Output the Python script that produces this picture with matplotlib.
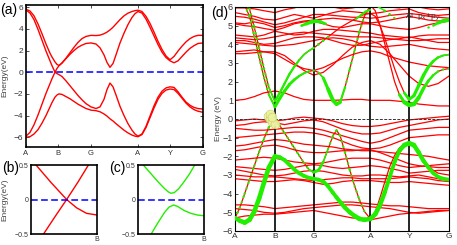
import numpy as np
import matplotlib.pyplot as plt
from matplotlib.collections import LineCollection

plt.rcParams['font.family'] = ['Liberation Sans', 'DejaVu Sans']

RED = '#ff0000'
GREEN = '#22ee00'
BLUE = '#0000ff'

sym_labels = ['A', 'B', 'G', 'A', 'Y', 'G']
sym_a = [0, 32, 65, 112, 144, 177]
sym_d = [0, 33, 65, 112, 144, 177]

# ---- panel (a): 4 bands near the Fermi level
ka = [0, 4, 8, 12, 16, 20, 24, 26, 29, 31, 33, 36, 40, 44, 48, 52, 56, 60,
      65, 70, 74, 78, 81, 84, 87, 90, 94, 98, 102, 106, 109, 112, 116, 120,
      124, 128, 132, 136, 140, 144, 148, 152, 156, 160, 164, 168, 172, 177]
a_v2 = [-6.0, -5.95, -5.7, -5.3, -4.7, -4.0, -3.2, -2.8, -2.3, -2.1, -2.0, -2.05,
        -2.25, -2.45, -2.7, -2.95, -3.15, -3.35, -3.5, -3.55, -3.65, -3.85, -4.05,
        -4.3, -4.5, -4.75, -5.05, -5.35, -5.6, -5.8, -5.9, -5.95, -5.75, -5.1,
        -4.2, -3.3, -2.5, -1.95, -1.65, -1.55, -1.6, -1.95, -2.4, -2.85, -3.2,
        -3.45, -3.6, -3.7]
a_v1 = [-5.9, -5.55, -4.85, -3.95, -2.95, -1.95, -1.05, -0.6, 0.0, -0.13, -0.22,
        -0.4, -0.8, -1.25, -1.7, -2.15, -2.55, -2.9, -3.2, -3.35, -3.2, -2.5,
        -1.6, -1.0, -1.35, -2.1, -3.15, -4.0, -4.75, -5.35, -5.7, -5.9, -5.7,
        -5.0, -4.05, -3.1, -2.3, -1.75, -1.45, -1.35, -1.4, -1.8, -2.3, -2.75,
        -3.05, -3.25, -3.35, -3.4]
a_c1 = [5.75, 5.45, 4.85, 3.95, 2.95, 1.95, 1.05, 0.6, 0.0, 0.35, 0.6, 0.85, 1.25,
        1.65, 2.0, 2.3, 2.5, 2.65, 2.7, 2.6, 2.25, 1.6, 0.9, 0.45, 0.8, 1.6, 2.7,
        3.6, 4.4, 5.05, 5.4, 5.6, 5.45, 4.9, 4.15, 3.35, 2.55, 1.85, 1.35, 1.05,
        0.87, 1.05, 1.45, 1.85, 2.2, 2.45, 2.65, 2.7]
a_c2 = [5.8, 5.65, 5.2, 4.45, 3.55, 2.6, 1.75, 1.4, 0.95, 0.72, 0.62, 0.85, 1.3,
        1.8, 2.3, 2.75, 3.1, 3.3, 3.4, 3.38, 3.42, 3.55, 3.7, 3.9, 4.15, 4.45,
        4.85, 5.2, 5.45, 5.6, 5.68, 5.72, 5.6, 5.15, 4.5, 3.7, 2.85, 2.1, 1.5,
        1.15, 1.45, 1.95, 2.4, 2.8, 3.1, 3.3, 3.4, 3.4]

# ---- panels (b), (c): zoom near B, without / with SOC
kb_up = [0.19, 0.37, 0.54, 0.71, 0.87]
eb_up = [-0.5, -0.24, 0.0, 0.25, 0.5]
kb_dn = [0.076, 0.3, 0.54, 0.69, 0.84, 1.0]
eb_dn = [0.5, 0.25, 0.0, -0.12, -0.2, -0.225]

kc_up = [0.08, 0.2, 0.3, 0.4, 0.46, 0.5, 0.55, 0.62, 0.7, 0.78, 0.86]
ec_up = [0.5, 0.37, 0.26, 0.16, 0.11, 0.09, 0.1, 0.16, 0.26, 0.37, 0.5]
kc_dn = [0.2, 0.3, 0.4, 0.47, 0.54, 0.6, 0.7, 0.8, 0.9, 1.0]
ec_dn = [-0.5, -0.34, -0.19, -0.11, -0.08, -0.1, -0.16, -0.2, -0.225, -0.235]

# ---- panel (d): full band structure
kd = [0, 8, 16, 24, 33, 41, 49, 57, 65, 73, 81, 89, 97, 105, 112, 120, 128,
      136, 144, 152, 160, 168, 177]
d_bands = [
    [1.0, 1.05, 1.2, 1.4, 1.5, 1.4, 1.2, 1.05, 1.0, 1.0, 1.0, 1.02, 1.05, 1.05, 1.0, 1.0, 1.0, 0.95, 0.9, 0.8, 0.75, 0.7, 0.7],
    [3.5, 3.5, 3.55, 3.6, 3.6, 3.4, 3.0, 2.6, 2.35, 2.5, 2.9, 3.4, 3.85, 4.1, 4.2, 4.0, 3.5, 2.9, 2.3, 1.9, 1.75, 1.9, 2.3],
    [4.1, 4.05, 4.0, 3.95, 3.9, 3.95, 4.0, 4.1, 4.2, 4.3, 4.35, 4.3, 4.2, 4.0, 3.9, 3.85, 3.9, 3.95, 4.0, 3.9, 3.8, 3.75, 3.7],
    [4.2, 4.2, 4.1, 4.0, 4.05, 4.2, 4.35, 4.4, 4.4, 4.35, 4.2, 4.05, 3.95, 3.95, 4.05, 4.15, 4.25, 4.3, 4.4, 4.3, 4.2, 4.1, 4.1],
    [4.5, 4.45, 4.4, 4.5, 4.7, 4.6, 4.5, 4.55, 4.7, 4.8, 4.8, 4.75, 4.7, 4.65, 4.6, 4.5, 4.45, 4.4, 4.35, 4.45, 4.5, 4.5, 4.5],
    [5.1, 5.0, 4.95, 4.85, 4.75, 4.9, 5.1, 5.2, 5.25, 5.1, 4.95, 4.9, 5.0, 5.1, 5.1, 5.0, 4.9, 4.85, 4.8, 4.9, 5.05, 5.15, 5.25],
    [5.15, 5.1, 5.2, 5.1, 4.9, 5.0, 5.15, 5.25, 5.3, 5.35, 5.4, 5.35, 5.3, 5.2, 5.15, 5.2, 5.3, 5.4, 5.5, 5.4, 5.3, 5.25, 5.3],
    [5.7, 5.6, 5.5, 5.35, 5.3, 5.45, 5.6, 5.5, 5.4, 5.55, 5.7, 5.8, 5.75, 5.7, 5.65, 5.7, 5.8, 5.85, 5.9, 5.7, 5.6, 5.55, 5.6],
    [5.95, 5.95, 5.9, 5.8, 5.7, 5.85, 5.95, 6.1, 6.2, 6.1, 6.0, 5.9, 5.95, 6.05, 6.1, 6.05, 6.0, 5.95, 6.1, 6.0, 5.9, 5.85, 5.9],
    [3.6, 3.65, 3.7, 3.6, 3.5, 3.2, 2.9, 2.7, 2.6, 2.75, 3.0, 3.25, 3.45, 3.6, 3.65, 3.55, 3.35, 3.2, 3.05, 2.95, 2.85, 2.8, 2.75],
    [4.35, 4.3, 4.25, 4.3, 4.4, 4.5, 4.6, 4.65, 4.6, 4.55, 4.5, 4.45, 4.4, 4.4, 4.4, 4.35, 4.3, 4.25, 4.2, 4.2, 4.25, 4.3, 4.3],
    [5.5, 5.45, 5.35, 5.2, 5.05, 5.15, 5.3, 5.45, 5.6, 5.6, 5.55, 5.5, 5.45, 5.45, 5.4, 5.45, 5.55, 5.6, 5.65, 5.6, 5.5, 5.45, 5.4],
    [-0.1, -0.05, 0.0, -0.05, -0.1, -0.05, 0.05, 0.1, 0.05, 0.0, -0.1, -0.25, -0.35, -0.4, -0.4, -0.35, -0.25, -0.15, -0.05, 0.0, 0.05, 0.1, 0.15],
    [-0.35, -0.3, -0.2, -0.15, -0.2, -0.3, -0.2, -0.1, -0.05, -0.15, -0.35, -0.55, -0.7, -0.8, -0.8, -0.75, -0.6, -0.45, -0.35, -0.25, -0.15, -0.05, 0.0],
    [-0.5, -0.55, -0.6, -0.6, -0.55, -0.5, -0.45, -0.45, -0.5, -0.6, -0.75, -0.9, -1.05, -1.2, -1.3, -1.2, -1.0, -0.8, -0.6, -0.55, -0.5, -0.45, -0.45],
    [-1.0, -0.95, -0.9, -0.85, -0.8, -0.75, -0.7, -0.7, -0.75, -0.85, -1.0, -1.2, -1.4, -1.55, -1.6, -1.55, -1.4, -1.2, -1.0, -0.95, -0.9, -0.85, -0.85],
    [-1.45, -1.4, -1.3, -1.2, -1.1, -1.15, -1.25, -1.35, -1.4, -1.45, -1.5, -1.6, -1.65, -1.7, -1.7, -1.75, -1.8, -1.85, -1.9, -1.95, -2.0, -2.1, -2.2],
    [-1.7, -1.65, -1.55, -1.45, -1.4, -1.5, -1.65, -1.75, -1.8, -1.8, -1.75, -1.7, -1.7, -1.65, -1.65, -1.8, -2.0, -2.2, -2.4, -2.5, -2.55, -2.6, -2.6],
    [-2.2, -2.15, -2.1, -2.05, -2.1, -2.2, -2.3, -2.35, -2.4, -2.35, -2.25, -2.15, -2.1, -2.1, -2.1, -2.2, -2.35, -2.5, -2.6, -2.55, -2.5, -2.45, -2.4],
    [-2.55, -2.6, -2.65, -2.7, -2.75, -2.7, -2.6, -2.5, -2.45, -2.5, -2.6, -2.65, -2.6, -2.55, -2.5, -2.55, -2.65, -2.75, -2.9, -2.85, -2.8, -2.75, -2.75],
    [-2.7, -2.8, -2.9, -3.0, -3.05, -3.0, -2.9, -2.8, -2.75, -2.8, -2.9, -3.0, -3.05, -3.05, -3.0, -3.0, -3.05, -3.1, -3.05, -3.0, -3.1, -3.2, -3.3],
    [-3.0, -3.05, -3.1, -3.1, -3.1, -3.15, -3.2, -3.25, -3.3, -3.25, -3.2, -3.15, -3.15, -3.2, -3.2, -3.2, -3.2, -3.15, -3.1, -3.15, -3.2, -3.3, -3.35],
    [-3.2, -3.25, -3.3, -3.35, -3.35, -3.3, -3.25, -3.3, -3.4, -3.5, -3.45, -3.35, -3.3, -3.3, -3.3, -3.35, -3.4, -3.4, -3.35, -3.4, -3.45, -3.5, -3.55],
    [-4.6, -4.6, -4.65, -4.7, -4.8, -4.75, -4.7, -4.65, -4.6, -4.55, -4.5, -4.45, -4.45, -4.5, -4.55, -4.6, -4.65, -4.65, -4.7, -4.75, -4.8, -4.8, -4.8],
    [-4.8, -4.85, -4.9, -5.0, -5.05, -5.0, -4.9, -4.8, -4.75, -4.7, -4.65, -4.6, -4.6, -4.65, -4.7, -4.75, -4.8, -4.9, -5.0, -5.05, -5.0, -4.95, -4.9],
    [-5.3, -5.2, -5.15, -5.1, -5.1, -5.05, -5.0, -4.95, -4.9, -5.0, -5.1, -5.2, -5.3, -5.35, -5.4, -5.3, -5.2, -5.1, -5.05, -5.0, -4.95, -4.9, -4.9],
]

# bands carrying the Al px+py weight, on a finer k list
kf = [0, 4, 8, 12, 16, 20, 24, 28, 33, 37, 41, 45, 49, 53, 57, 61, 65, 69, 73,
      77, 81, 84, 87, 91, 95, 99, 103, 107, 112, 116, 120, 124, 128, 132, 136,
      140, 144, 148, 152, 156, 160, 164, 168, 172, 177]
d_vd1 = [-5.3, -4.75, -4.0, -3.25, -2.5, -1.75, -1.05, -0.45, 0.0, -0.35, -0.75,
         -1.15, -1.55, -1.95, -2.35, -2.7, -2.85, -2.75, -2.3, -1.6, -0.9, -0.6,
         -0.9, -1.8, -2.75, -3.6, -4.35, -4.95, -5.35, -5.0, -4.2, -3.35, -2.55,
         -1.95, -1.55, -1.35, -1.3, -1.4, -1.75, -2.15, -2.5, -2.75, -2.9, -2.95, -3.0]
d_vd2 = [-5.3, -5.45, -5.55, -5.4, -4.95, -4.25, -3.4, -2.6, -2.0, -2.05, -2.2,
         -2.45, -2.7, -2.9, -3.05, -3.15, -3.2, -3.25, -3.35, -3.6, -3.95, -4.2,
         -4.45, -4.75, -5.0, -5.2, -5.35, -5.4, -5.35, -5.1, -4.6, -3.9, -3.1,
         -2.3, -1.7, -1.4, -1.3, -1.4, -1.8, -2.25, -2.6, -2.9, -3.1, -3.2, -3.25]
d_c02 = [6.4, 6.35, 6.1, 5.5, 4.4, 3.3, 2.2, 1.3, 0.65, 1.1, 1.5, 1.85, 2.1, 2.3,
         2.45, 2.55, 2.6, 2.5, 2.2, 1.6, 1.0, 0.8, 0.9, 1.7, 2.7, 3.7, 4.7, 5.5,
         6.1, 5.8, 5.0, 4.0, 3.0, 2.0, 1.3, 0.9, 0.75, 0.8, 1.15, 1.65, 2.05, 2.35,
         2.55, 2.65, 2.7]
d_c03 = [6.5, 6.45, 6.3, 5.9, 4.9, 3.8, 2.7, 1.7, 0.95, 1.4, 1.9, 2.4, 2.8, 3.15,
         3.45, 3.65, 3.8, 4.0, 4.2, 4.4, 4.6, 4.75, 4.9, 5.05, 5.2, 5.35, 5.5, 5.6,
         5.65, 5.5, 5.0, 4.3, 3.5, 2.7, 2.0, 1.4, 1.05, 1.25, 1.8, 2.35, 2.8, 3.1,
         3.3, 3.4, 3.45]
w_vd1 = [1, 1, 1, 1, 1, 1, 1, 1, 1, 1, 1, 1, 1, 1, 1, 1, 4, 4, 3, 1, 1, 1, 1, 1,
         1, 1, 1, 1, 0, 0, 0, 0, 0, 0, 0, 0, 0, 0, 0, 0, 0, 0, 0, 0, 0]
w_vd2 = [5, 6, 6, 6, 6, 6, 6, 6, 6, 5, 5, 5, 5, 5, 5, 5, 5, 5, 5, 5, 5, 5, 5.5,
         5.5, 5.5, 6, 6, 6, 6, 6, 6, 5.5, 5, 5, 5.5, 6, 6.5, 6, 5.5, 5.5, 5, 5,
         5, 5, 5]
w_c02 = [0, 0, 1, 1, 1, 1, 1, 1, 4, 4, 4, 4, 3.5, 3, 2.5, 2, 1, 1, 3, 5, 5, 5,
         4.5, 1, 1, 1, 1, 1, 0, 0, 0, 0, 0, 0, 3, 5, 6, 5.5, 5, 4, 3.5, 3, 2, 1, 1]
w_c03 = [0, 0, 1, 1, 1, 1, 1, 1, 3, 3, 3, 3, 3, 2.5, 2, 2, 2, 1, 1, 1, 0, 0, 0,
         0, 0, 0, 0, 0, 0, 0, 0, 0, 0, 0, 0, 3, 4, 4, 4.5, 4.5, 4, 3.5, 3, 2.5, 2]

# small green patches on the upper bands
g_patches = [
    ([55, 59, 63, 67, 71, 75], [5.0, 5.1, 5.2, 5.25, 5.2, 5.1], [3, 4, 5, 5, 4, 3]),
    ([160, 164, 168, 172, 177], [4.9, 5.0, 5.15, 5.25, 5.3], [1, 2, 4, 5, 5]),
    ([100, 104, 108, 112], [5.35, 5.55, 5.75, 5.85], [2, 3, 3, 2]),
    ([116, 120, 124, 128, 132], [6.1, 5.95, 5.8, 5.6, 5.4], [2, 2, 2, 1.5, 1]),
]
# light blob near the B crossing
blob_k = [27, 29, 31, 33, 29, 31]
blob_e = [0.15, 0.0, -0.15, -0.25, 0.25, 0.1]


def box(ax, lw=1.2):
    for s in ax.spines.values():
        s.set_linewidth(lw)
        s.set_color('k')


def green_band(ax, k, e, w):
    pts = np.column_stack([k, e])
    segs = np.stack([pts[:-1], pts[1:]], axis=1)
    w = np.asarray(w, float)
    wm = (w[:-1] + w[1:]) / 2
    both = np.minimum(w[:-1], w[1:]) > 0
    thick = both & (wm >= 2)
    thin = both & (wm < 2)
    if thick.any():
        ax.add_collection(LineCollection(segs[thick], linewidths=wm[thick] * 0.55,
                                         colors=GREEN, capstyle='round', zorder=4))
    if thin.any():
        ax.add_collection(LineCollection(segs[thin], linewidths=1.7, colors=GREEN,
                                         linestyles=[(0, (0.1, 2.3))],
                                         capstyle='round', zorder=4))


fig = plt.figure(figsize=(4.57, 2.45), dpi=100)

# (a)
ax = fig.add_axes([26 / 457, 1 - 147 / 245, 177 / 457, 142 / 245])
for band in [a_v2, a_v1, a_c1, a_c2]:
    ax.plot(ka, band, color=RED, lw=1.0)
ax.axhline(0, color=BLUE, lw=1.1, ls=(0, (4.4, 2.2)))
ax.set_xlim(0, 177)
ax.set_ylim(-6.9, 6.2)
ax.set_xticks(sym_a)
ax.set_xticklabels(sym_labels)
ax.set_yticks([-6, -4, -2, 0, 2, 4, 6])
ax.tick_params(direction='in', length=2.5, top=True, right=True, width=0.6,
               pad=2, colors='#333333')
ax.tick_params(axis='x', labelsize=5.5)
ax.tick_params(axis='y', labelsize=6)
ax.set_ylabel('Energy(eV)', fontsize=6, color='#444444')
ax.yaxis.set_label_coords(-0.1, 0.5)
box(ax)

# (b) and (c)
for left, lines, color, ylab in [
        (31, [(kb_up, eb_up), (kb_dn, eb_dn)], RED, True),
        (138, [(kc_up, ec_up), (kc_dn, ec_dn)], GREEN, False)]:
    ax = fig.add_axes([left / 457, 1 - 234 / 245, 66 / 457, 69 / 245])
    for k, e in lines:
        ax.plot(k, e, color=color, lw=1.0)
    ax.axhline(0, color=BLUE, lw=1.1, ls=(0, (4.4, 2.2)))
    ax.set_xlim(0, 1)
    ax.set_ylim(-0.5, 0.5)
    ax.set_xticks([1])
    ax.set_xticklabels(['B'])
    ax.set_yticks([-0.5, 0, 0.5])
    ax.set_yticklabels(['\u22120.5', '0', '0.5'])
    ax.tick_params(direction='in', length=0, pad=1.5, colors='#333333')
    ax.tick_params(axis='x', labelsize=5)
    ax.tick_params(axis='y', labelsize=5)
    if ylab:
        ax.set_ylabel('Energy(eV)', fontsize=6, color='#444444')
        ax.yaxis.set_label_coords(-0.35, 0.5)
    box(ax)

# (d)
ax = fig.add_axes([235 / 457, 1 - 231 / 245, 214 / 457, 224 / 245])
for band in d_bands:
    ax.plot(kd, band, color=RED, lw=0.9, zorder=2)
for band in [d_vd1, d_vd2, d_c02, d_c03]:
    ax.plot(kf, band, color=RED, lw=0.9, zorder=2)
for x in sym_d[1:-1]:
    ax.axvline(x, color='k', lw=1.2, zorder=3)
ax.axhline(0, color='#333333', lw=0.7, ls=(0, (3, 1.5)), zorder=3)
for band, w in [(d_vd1, w_vd1), (d_vd2, w_vd2), (d_c02, w_c02), (d_c03, w_c03)]:
    green_band(ax, kf, band, w)
for k, e, w in g_patches:
    green_band(ax, k, e, w)
ax.scatter(blob_k, blob_e, s=40, color='#eef2a0', edgecolors='#c5d46a',
           linewidths=0.5, alpha=0.9, zorder=5)
ax.text(0.795, 0.955, 'Al  p$_x$+p$_y$', transform=ax.transAxes, fontsize=6,
        va='center', ha='left', color='#333333', zorder=6)
ax.set_xlim(0, 177)
ax.set_ylim(-6, 6)
ax.set_xticks(sym_d)
ax.set_xticklabels(sym_labels)
ax.set_yticks(range(-6, 7))
ax.tick_params(direction='in', length=2, width=0.6, pad=1.5, colors='#333333')
ax.tick_params(axis='x', labelsize=6, length=0)
ax.tick_params(axis='y', labelsize=6.5)
ax.set_ylabel('Energy (eV)', fontsize=6, color='#444444')
ax.yaxis.set_label_coords(-0.06, 0.5)
box(ax, 0.8)

fig.text(0.0, 0.96, '(a)', fontsize=10, va='center', ha='left')
fig.text(0.004, 0.314, '(b)', fontsize=10, va='center', ha='left')
fig.text(0.238, 0.314, '(c)', fontsize=10, va='center', ha='left')
fig.text(0.463, 0.947, '(d)', fontsize=10, va='center', ha='left')

fig.savefig('out.png', dpi=100)
